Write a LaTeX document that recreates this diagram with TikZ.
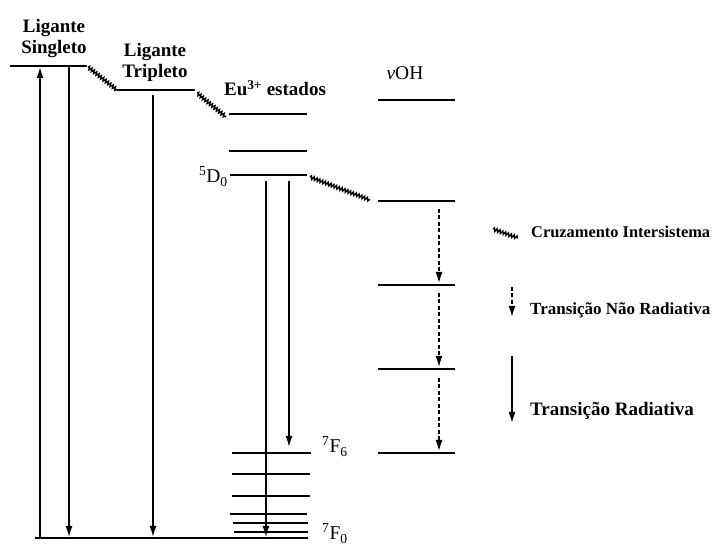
\documentclass[tikz,border=0pt]{standalone}
\usepackage{fontspec}
\setmainfont{Liberation Serif}
\usepackage{tikz}
\usetikzlibrary{arrows.meta,positioning,decorations.pathmorphing}

\begin{document}
\begin{tikzpicture}[x=1pt,y=-1pt,
	level/.style={line width=1.8pt},
	rad/.style={line width=1.5pt,-{Latex[length=11pt,width=7pt]}},
	nrad/.style={line width=1.4pt,dash pattern=on 4pt off 2.5pt,-{Latex[length=11pt,width=7pt]}},
	isc/.style={line width=1.4pt,decorate,decoration={snake,amplitude=1.6pt,segment length=3pt}},
	title/.style={font=\fontsize{19}{21}\selectfont\bfseries,align=center,inner sep=0pt},
	lbl/.style={font=\fontsize{19.5}{22}\selectfont,inner sep=0pt},
	leg/.style={font=\fontsize{17}{20}\selectfont\bfseries,anchor=base west,inner sep=0pt}]
	\useasboundingbox (0,0) rectangle (716,545);
	% labels
	\node[title] (singleto) at (54,39) {Ligante\\Singleto};
	\node[title] (tripleto) at (155,62) {Ligante\\Tripleto};
	\node[title,anchor=base] (eu) at (275,96) {Eu\textsuperscript{3+} estados};
	\node[lbl,anchor=base] (oh) at (405,80) {\textit{ν}OH};
	\node[lbl,anchor=base east] (d0lbl) at (228,183) {\textsuperscript{5}D\textsubscript{0}};
	\node[lbl,anchor=base west] (f6lbl) at (322,453) {\textsuperscript{7}F\textsubscript{6}};
	\node[lbl,anchor=base west] (f0lbl) at (322,540) {\textsuperscript{7}F\textsubscript{0}};
	% levels
	\coordinate (s1) at (10,66);   \coordinate (s2) at (87,66);
	\coordinate (t1) at (117,90);  \coordinate (t2) at (195,90);
	\coordinate (e1) at (229,114); \coordinate (e2) at (307,114);
	\coordinate (e3) at (229,151); \coordinate (e4) at (307,151);
	\coordinate (d1) at (230,175); \coordinate (d2) at (307,175);
	\coordinate (g1) at (35,538);  \coordinate (g2) at (308,538);
	\coordinate (f61) at (232,453); \coordinate (f62) at (311,453);
	\coordinate (f51) at (232,474); \coordinate (f52) at (310,474);
	\coordinate (f41) at (232,496); \coordinate (f42) at (310,496);
	\coordinate (f31) at (230,514); \coordinate (f32) at (307,514);
	\coordinate (f21) at (233,523); \coordinate (f22) at (308,523);
	\coordinate (f11) at (234,532); \coordinate (f12) at (308,532);
	\coordinate (o51) at (378,100); \coordinate (o52) at (455,100);
	\coordinate (o41) at (378,201); \coordinate (o42) at (455,201);
	\coordinate (o31) at (378,285); \coordinate (o32) at (455,285);
	\coordinate (o21) at (378,369); \coordinate (o22) at (455,369);
	\coordinate (o11) at (378,453); \coordinate (o12) at (455,453);
	\draw[level] (s1) -- (s2);
	\draw[level] (t1) -- (t2);
	\draw[level] (e1) -- (e2);
	\draw[level] (e3) -- (e4);
	\draw[level] (d1) -- (d2);
	\draw[level] (g1) -- (g2);
	\draw[line width=2.6pt] (f61) -- (f62);
	\draw[level] (f51) -- (f52);
	\draw[level] (f41) -- (f42);
	\draw[level] (f31) -- (f32);
	\draw[level] (f21) -- (f22);
	\draw[level] (f11) -- (f12);
	\draw[level] (o51) -- (o52);
	\draw[level] (o41) -- (o42);
	\draw[level] (o31) -- (o32);
	\draw[level] (o21) -- (o22);
	\draw[level] (o11) -- (o12);
	% intersystem crossings
	\coordinate (w1a) at (88,67);   \coordinate (w1b) at (117,90);
	\coordinate (w2a) at (197,93);  \coordinate (w2b) at (226,117);
	\coordinate (w3a) at (310,177); \coordinate (w3b) at (370,200);
	\draw[isc] (w1a) -- (w1b);
	\draw[isc] (w2a) -- (w2b);
	\draw[isc] (w3a) -- (w3b);
	% transitions
	\coordinate (ab1) at (40,538);  \coordinate (ab2) at (40,67);
	\coordinate (sd1) at (69,67);   \coordinate (sd2) at (69,537);
	\coordinate (td1) at (153,95);  \coordinate (td2) at (153,537);
	\coordinate (ea1) at (266,181); \coordinate (ea2) at (266,537);
	\coordinate (eb1) at (289,181); \coordinate (eb2) at (289,447);
	\draw[rad] (ab1) -- (ab2);
	\draw[rad] (sd1) -- (sd2);
	\draw[rad] (td1) -- (td2);
	\draw[rad] (ea1) -- (ea2);
	\draw[rad] (eb1) -- (eb2);
	\coordinate (n31) at (439,209); \coordinate (n32) at (439,283);
	\coordinate (n21) at (439,293); \coordinate (n22) at (439,367);
	\coordinate (n11) at (439,378); \coordinate (n12) at (439,451);
	\draw[nrad] (n31) -- (n32);
	\draw[nrad] (n21) -- (n22);
	\draw[nrad] (n11) -- (n12);
	% legend
	\coordinate (lw1) at (493,229); \coordinate (lw2) at (518,238);
	\draw[isc] (lw1) -- (lw2);
	\node[leg,font=\fontsize{16.4}{20}\selectfont\bfseries] (isclbl) at (531,238) {Cruzamento Intersistema};
	\coordinate (ln1) at (512,287); \coordinate (ln2) at (512,317);
	\draw[nrad] (ln1) -- (ln2);
	\node[leg] (nradlbl) at (530,315) {Transição Não Radiativa};
	\coordinate (lr1) at (512,356); \coordinate (lr2) at (512,423);
	\draw[rad] (lr1) -- (lr2);
	\node[leg,font=\fontsize{19}{22}\selectfont\bfseries] (radlbl) at (530,416) {Transição Radiativa};
\end{tikzpicture}
\end{document}
